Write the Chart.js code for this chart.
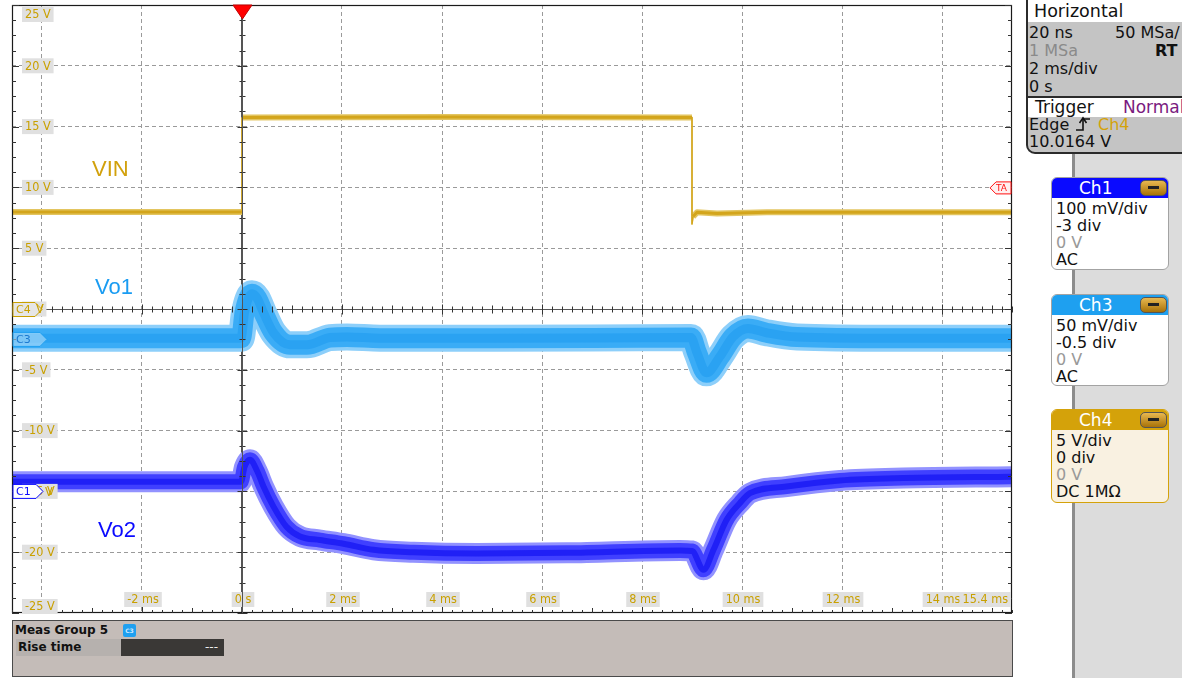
<!DOCTYPE html>
<html>
<head>
<meta charset="utf-8">
<title>Scope capture</title>
<script src="https://cdn.jsdelivr.net/npm/chart.js@4.4.1/dist/chart.umd.min.js"></script>
<style>
  body { margin: 0; width: 1182px; height: 678px; overflow: hidden; background: #fff;
         position: relative; font-family: "DejaVu Sans", sans-serif; color: #111; }
  #scope { position: absolute; left: 0; top: 0; width: 1020px; height: 620px; }
  #sideBg { position: absolute; left: 1075px; top: 0; width: 107px; height: 678px; background: #dcdcdc; }
  #sideLine { position: absolute; left: 1072px; top: 0; width: 3px; height: 678px; background: #8c8c8c; }
  #hpanel { position: absolute; left: 1026px; top: -2px; width: 170px; height: 152px; background: #c4c4c4;
            border: 2px solid #2b2b2b; border-bottom-left-radius: 9px; overflow: hidden; font-size: 16px; }
  #hpanel .t { position: absolute; white-space: nowrap; line-height: 18px; }
  #hpanel .band { position: absolute; left: 0; width: 100%; background: #fff; }
  .chbox { position: absolute; left: 1051px; width: 116px; border: 1.5px solid #a3a3a3; border-radius: 6px;
           background: #fff; overflow: hidden; font-size: 16px; }
  .chbox .hd { height: 20px; color: #fff; font-size: 17px; line-height: 20px; position: relative; }
  .chbox .hd span { position: absolute; left: 27px; }
  .chbox .btn { position: absolute; left: 88px; top: 2px; width: 25px; height: 14px; border: 1.5px solid #555;
                border-radius: 5px; background: linear-gradient(#e8b850, #a87208); }
  .chbox .btn i { position: absolute; left: 7px; top: 5px; width: 11px; height: 3px; background: #222; }
  .chbox .ln { padding-left: 4px; line-height: 17px; white-space: nowrap; }
  .chbox .body { padding-top: 2px; }
  .dim { color: #999; }
  #meas { position: absolute; left: 12px; top: 620px; width: 999px; height: 55px; background: #c4bcb8;
          border: 1px solid #4a4a4a; font-size: 12px; font-weight: bold; }
</style>
</head>
<body>
<div id="scope"><canvas id="scopeChart"></canvas></div>

<div id="sideBg"></div>
<div id="sideLine"></div>

<div id="hpanel">
  <div class="band" style="top:0; height:22px;"></div>
  <div class="t" style="left:6px; top:2px; font-size:17.5px;">Horizontal</div>
  <div class="t" style="left:1px; top:24px;">20 ns</div>
  <div class="t" style="left:87px; top:24px;">50 MSa/</div>
  <div class="t" style="left:1px; top:42px; color:#8a8a8a;">1 MSa</div>
  <div class="t" style="left:127px; top:42px; font-weight:bold;">RT</div>
  <div class="t" style="left:1px; top:60px;">2 ms/div</div>
  <div class="t" style="left:1px; top:78px;">0 s</div>
  <div class="band" style="top:96px; height:19px; border-top:2px solid #2b2b2b;"></div>
  <div class="t" style="left:7px; top:98px; font-size:17px;">Trigger</div>
  <div class="t" style="left:95px; top:98px; font-size:17px; color:#7a1a80;">Normal</div>
  <div class="t" style="left:1px; top:116px;">Edge</div>
  <svg class="t" style="left:47px; top:116px;" width="16" height="16" viewBox="0 0 16 16">
    <path d="M1 14 H8 V3 H15" fill="none" stroke="#111" stroke-width="1.6"/>
    <path d="M4.5 7 L8 2 L11.5 7" fill="none" stroke="#111" stroke-width="1.6"/>
  </svg>
  <div class="t" style="left:70px; top:116px; color:#d4a20a;">Ch4</div>
  <div class="t" style="left:1px; top:133px;">10.0164 V</div>
</div>

<div class="chbox" style="top:177px; height:91px;">
  <div class="hd" style="background:#0a0aff;"><span>Ch1</span><div class="btn"><i></i></div></div>
  <div class="body">
    <div class="ln">100 mV/div</div><div class="ln">-3 div</div>
    <div class="ln dim">0 V</div><div class="ln">AC</div>
  </div>
</div>
<div class="chbox" style="top:294px; height:90px;">
  <div class="hd" style="background:#1ea0f0;"><span>Ch3</span><div class="btn"><i></i></div></div>
  <div class="body">
    <div class="ln">50 mV/div</div><div class="ln">-0.5 div</div>
    <div class="ln dim">0 V</div><div class="ln">AC</div>
  </div>
</div>
<div class="chbox" style="top:409px; height:92px; border-color:#d4a20a; background:#f9f1e1;">
  <div class="hd" style="background:#d4a20a;"><span>Ch4</span><div class="btn"><i></i></div></div>
  <div class="body">
    <div class="ln">5 V/div</div><div class="ln">0 div</div>
    <div class="ln dim">0 V</div><div class="ln">DC 1MΩ</div>
  </div>
</div>

<div id="meas">
  <div style="position:absolute; left:2px; top:2px;">Meas Group 5</div>
  <div style="position:absolute; left:110px; top:3px; width:13px; height:13px; background:#1ea0f0; border-radius:2px;
              color:#cfe9ff; font-size:6px; line-height:13px; text-align:center;">C3</div>
  <div style="position:absolute; left:3px; top:18px; width:105px; height:17px; background:#b6b1ae; line-height:17px; padding-left:2px;">Rise time</div>
  <div style="position:absolute; left:108px; top:18px; width:103px; height:17px; background:#3a3836; color:#eee;
              line-height:17px; text-align:right; font-weight:normal;"><span style="padding-right:6px;">---</span></div>
</div>

<script>
// screen: 10 div x 2 ms/div, 10 div x 5 V/div (values in Ch4 screen volts)
const xMin = -4.6, xMax = 15.4;
const yMin = -25, yMax = 25;

const xGridVals = [-4, -2, 0, 2, 4, 6, 8, 10, 12, 14];
const yGridVals = [-20, -15, -10, -5, 0, 5, 10, 15, 20];

const xLabelVals = [-2, 0, 2, 4, 6, 8, 10, 12, 14, 15.4];
const xLabels = ['-2 ms', '0 s', '2 ms', '4 ms', '6 ms', '8 ms', '10 ms', '12 ms', '14 ms', '15.4 ms'];
const yLabelVals = [25, 20, 15, 10, 5, 0, -5, -10, -15, -20, -25];
const yLabels = ['25 V', '20 V', '15 V', '10 V', '5 V', '0 V', '-5 V', '-10 V', '-15 V', '-20 V', '-25 V'];

// VIN (Ch4)
const vinT = [-4.6, 0, 0, 4, 9.0, 9.0, 9.02, 9.1, 9.5, 10.5, 15.4];
const vinV = [7.98, 7.98, 15.75, 15.78, 15.75, 7.0, 7.6, 7.95, 7.85, 7.95, 7.95];

// Vo1 (Ch3)
const vo1T = [-4.6, -2, -0.02, 0.05, 0.2, 0.3, 0.43, 0.63, 0.96, 1.3, 1.76, 2.1, 2.76, 5, 8.98,
              9.1, 9.29, 9.56, 9.82, 10.12, 10.49, 11.1, 13, 15.4];
const vo1V = [-2.4, -2.4, -2.4, -0.3, 1.25, 0.9, -0.3, -1.95, -2.95, -2.95, -2.35, -2.3, -2.4, -2.4, -2.35,
              -3.6, -5.25, -3.9, -2.3, -1.6, -1.95, -2.3, -2.4, -2.4];

// Vo2 (Ch1)
const vo2T = [-4.6, -2, -0.02, 0.05, 0.16, 0.3, 0.43, 0.63, 0.89, 1.16, 1.56, 2.03, 2.63, 3.43, 4.7, 6.5,
              8.76, 9.0, 9.23, 9.43, 9.69, 9.96, 10.16, 10.89, 11.96, 13.23, 15.4];
const vo2V = [-14.2, -14.2, -14.2, -13.0, -12.4, -13.3, -14.6, -16.25, -17.9, -18.7, -19.0, -19.3, -19.8, -20.0, -20.1, -20.05,
              -19.85, -19.9, -21.45, -19.8, -17.35, -15.95, -15.15, -14.6, -14.1, -13.9, -13.8];

const toPoints = (ts, vs) => ts.map((t, i) => ({ x: t, y: vs[i] }));

// thin line on the fast edges of a trace, thick band elsewhere
const edgeWidth = ctx => (Math.abs(ctx.p1.parsed.x - ctx.p0.parsed.x) < 0.03 ? 1.5 : undefined);

function band(ts, vs, layers, smooth) {
  return layers.map((l, i) => ({
    data: toPoints(ts, vs),
    borderColor: l[0],
    borderWidth: l[1],
    pointRadius: 0,
    borderJoinStyle: 'round',
    borderCapStyle: 'butt',
    cubicInterpolationMode: smooth ? 'monotone' : 'default',
    tension: 0,
    clip: 0,
    order: 10 - i,
    segment: smooth ? {} : { borderWidth: edgeWidth }
  }));
}

const datasets = [
  ...band(vo2T, vo2V, [['#9292ff', 21], ['#4040ff', 15], ['#2020f6', 6]], true),
  ...band(vo1T, vo1V, [['#8dcffa', 27], ['#3aacf6', 20], ['#2aa2f2', 9]], true),
  ...band(vinT, vinV, [['#e3c560', 6], ['#d3a51c', 3]], false)
];

function tag(ctx, text, left, cy, center) {
  ctx.font = '12.5px "Liberation Sans Narrow", "DejaVu Sans Condensed", sans-serif';
  const w = ctx.measureText(text).width + 6;
  const x0 = center ? left - w / 2 : left;
  ctx.fillStyle = '#e0e0e0';
  ctx.fillRect(x0, cy - 7.5, w, 15);
  ctx.fillStyle = '#c9a000';
  ctx.textAlign = 'left';
  ctx.textBaseline = 'middle';
  ctx.fillText(text, x0 + 3, cy + 0.5);
  return w;
}

function chanMarker(ctx, text, l, r, cy, stroke, fill, color) {
  ctx.beginPath();
  ctx.moveTo(l, cy - 7); ctx.lineTo(r - 7, cy - 7); ctx.lineTo(r, cy);
  ctx.lineTo(r - 7, cy + 7); ctx.lineTo(l, cy + 7); ctx.closePath();
  ctx.fillStyle = fill; ctx.fill();
  ctx.strokeStyle = stroke; ctx.lineWidth = 1; ctx.stroke();
  ctx.font = '11px "DejaVu Sans", sans-serif';
  ctx.fillStyle = color; ctx.textAlign = 'left'; ctx.textBaseline = 'middle';
  ctx.fillText(text, l + 3, cy + 0.5);
}

const scopeDecor = {
  id: 'scopeDecor',
  afterDraw(chart) {
    const { ctx, chartArea: a } = chart;
    const xs = chart.scales.x, ys = chart.scales.y;
    const px0 = Math.round(xs.getPixelForValue(0)) + 0.5;
    const py0 = Math.round(ys.getPixelForValue(0)) + 0.5;
    ctx.save();

    // frame
    ctx.strokeStyle = '#1a1a1a';
    ctx.lineWidth = 1.2;
    ctx.strokeRect(a.left + 0.5, a.top + 0.5, a.right - a.left - 1, a.bottom - a.top - 1);

    // ticks
    ctx.beginPath();
    for (let i = 0; i <= 100; i++) {
      const t = xMin + i * 0.2;
      const px = Math.round(xs.getPixelForValue(t)) + 0.5;
      const major = Math.abs(t / 2 - Math.round(t / 2)) < 1e-6;
      const half = !major && Math.abs(t - Math.round(t)) < 1e-6;
      const len = major ? 6 : half ? 5 : 3;
      ctx.moveTo(px, a.bottom); ctx.lineTo(px, a.bottom - len);
      const l2 = major ? 5 : half ? 4 : 3;
      ctx.moveTo(px, py0 - l2); ctx.lineTo(px, py0 + l2);
    }
    for (let i = 0; i <= 40; i++) {
      const v = yMin + i * 1.25;
      const py = Math.round(ys.getPixelForValue(v)) + 0.5;
      const major = Math.abs(v / 5 - Math.round(v / 5)) < 1e-6;
      const len = major ? 7 : 4;
      ctx.moveTo(a.left, py); ctx.lineTo(a.left + len, py);
      ctx.moveTo(a.right, py); ctx.lineTo(a.right - len, py);
      const l2 = major ? 5 : 3;
      ctx.moveTo(px0 - l2, py); ctx.lineTo(px0 + l2, py);
    }
    ctx.strokeStyle = '#333';
    ctx.lineWidth = 1;
    ctx.stroke();

    // axis labels
    yLabelVals.forEach((v, i) => {
      let cy = ys.getPixelForValue(v);
      cy = Math.min(Math.max(cy, a.top + 9.5), a.bottom - 6.5);
      tag(ctx, yLabels[i], a.left + 10, cy, false);
    });
    xLabelVals.forEach((v, i) => {
      const cy = a.bottom - 13.5;
      if (v === xMax) {
        ctx.font = '12.5px "Liberation Sans Narrow", "DejaVu Sans Condensed", sans-serif';
        const w = ctx.measureText(xLabels[i]).width + 6;
        tag(ctx, xLabels[i], a.right - 1 - w, cy, false);
      } else {
        tag(ctx, xLabels[i], xs.getPixelForValue(v) + 1, cy, true);
      }
    });

    // zero axis redrawn over labels
    ctx.beginPath();
    ctx.moveTo(px0, a.top); ctx.lineTo(px0, a.bottom);
    ctx.strokeStyle = '#555'; ctx.lineWidth = 1; ctx.stroke();

    // channel offset markers
    chanMarker(ctx, 'C4', a.left + 1, a.left + 30, ys.getPixelForValue(0) + 0.5, '#c9a000', '#e6e6e6', '#c9a000');
    chanMarker(ctx, 'C3', a.left + 1, a.left + 35, ys.getPixelForValue(-2.5), '#1e9ff0', 'rgba(190,228,252,0.55)', '#1a78d0');
    chanMarker(ctx, 'C1', a.left + 1, a.left + 31, ys.getPixelForValue(-15), '#0a0aff', '#ffffff', '#0a0aff');
    ctx.font = '12.5px "Liberation Sans Narrow", "DejaVu Sans Condensed", sans-serif';
    ctx.fillStyle = '#c9a000'; ctx.textBaseline = 'middle';
    ctx.fillText('V', a.left + 24, ys.getPixelForValue(0) + 1);
    ctx.fillText('V', a.left + 33, ys.getPixelForValue(-15) + 1);

    // trigger level marker (right) and trigger position (top)
    const ty = ys.getPixelForValue(10) + 0.5;
    ctx.beginPath();
    ctx.moveTo(a.right - 1, ty - 6); ctx.lineTo(a.right - 16, ty - 6); ctx.lineTo(a.right - 22, ty);
    ctx.lineTo(a.right - 16, ty + 6); ctx.lineTo(a.right - 1, ty + 6); ctx.closePath();
    ctx.fillStyle = '#fff0f0'; ctx.fill();
    ctx.strokeStyle = '#ff1010'; ctx.lineWidth = 1; ctx.stroke();
    ctx.font = '9px "DejaVu Sans", sans-serif';
    ctx.fillStyle = '#ff1010'; ctx.textAlign = 'left';
    ctx.fillText('TA', a.right - 16, ty + 0.5);

    ctx.beginPath();
    ctx.moveTo(px0 - 9.5, a.top); ctx.lineTo(px0 + 9.5, a.top); ctx.lineTo(px0, a.top + 14); ctx.closePath();
    ctx.fillStyle = '#ff0000'; ctx.fill();
    ctx.strokeStyle = '#c00000'; ctx.stroke();

    // trace names
    ctx.font = '22px "Liberation Sans", sans-serif';
    ctx.textBaseline = 'alphabetic';
    ctx.fillStyle = '#d2a10c';
    ctx.fillText('VIN', xs.getPixelForValue(-3.0), ys.getPixelForValue(10.94));
    ctx.fillStyle = '#1a9cf2';
    ctx.fillText('Vo1', xs.getPixelForValue(-2.94), ys.getPixelForValue(1.23));
    ctx.fillStyle = '#0a0aff';
    ctx.fillText('Vo2', xs.getPixelForValue(-2.88), ys.getPixelForValue(-18.75));

    ctx.restore();
  }
};

const gridOpts = {
  color: ctx => (ctx.tick && ctx.tick.value === 0) ? '#555' : '#9a9a9a',
  lineWidth: 1,
  drawTicks: false
};
const borderOpts = {
  display: false,
  dash: ctx => (ctx.tick && ctx.tick.value === 0) ? [] : [4, 3]
};

new Chart(document.getElementById('scopeChart'), {
  type: 'line',
  data: { datasets },
  options: {
    responsive: true,
    maintainAspectRatio: false,
    animation: false,
    devicePixelRatio: 1,
    events: [],
    layout: { padding: { left: 12, right: 8, top: 5, bottom: 7 } },
    plugins: { legend: { display: false }, tooltip: { enabled: false } },
    scales: {
      x: {
        type: 'linear', min: xMin, max: xMax, z: 1,
        afterBuildTicks: s => { s.ticks = xGridVals.map(v => ({ value: v })); },
        ticks: { display: false },
        grid: gridOpts, border: borderOpts
      },
      y: {
        type: 'linear', min: yMin, max: yMax, z: 1,
        afterBuildTicks: s => { s.ticks = yGridVals.map(v => ({ value: v })); },
        ticks: { display: false },
        grid: gridOpts, border: borderOpts
      }
    }
  },
  plugins: [scopeDecor]
});
</script>
</body>
</html>
